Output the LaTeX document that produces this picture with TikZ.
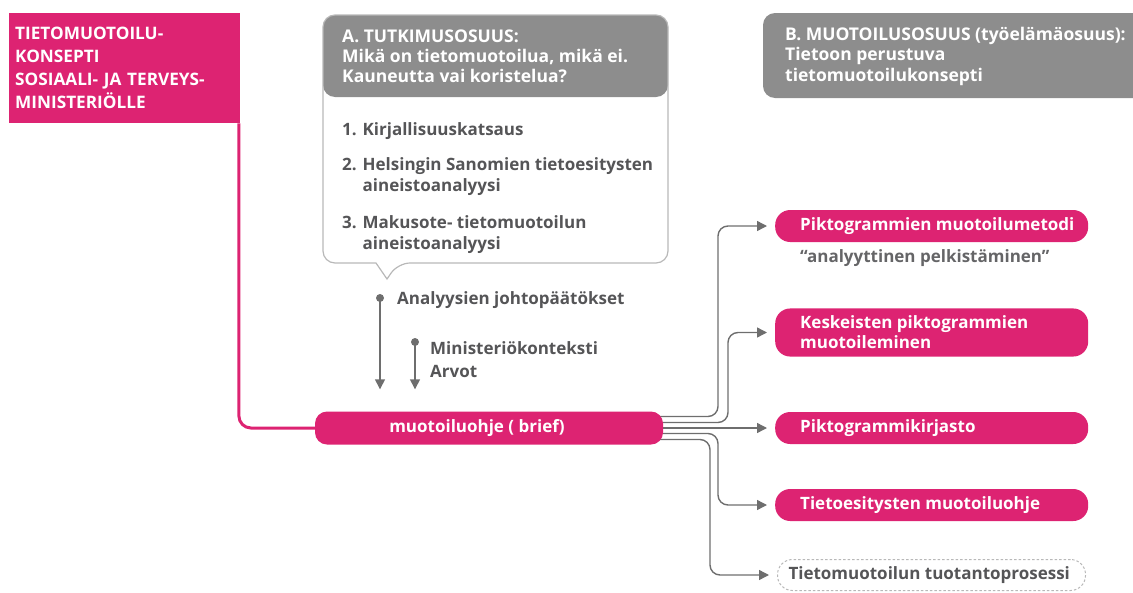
\documentclass[tikz,border=0pt]{standalone}
\usepackage{fontspec}
\setmainfont{Open Sans}
\usetikzlibrary{arrows.meta,backgrounds,calc}
\definecolor{pinkc}{HTML}{DD2372}
\definecolor{hdrgray}{HTML}{8D8D8D}
\definecolor{txtgray}{HTML}{555557}
\definecolor{subgray}{HTML}{656567}
\definecolor{linegray}{HTML}{6E6E6E}
\definecolor{boxline}{HTML}{B8B8B8}
\newcommand{\diafont}{\bfseries\fontsize{17}{20}\selectfont}
\newcommand{\hdrfont}[1]{\bfseries\fontsize{17.5}{#1}\selectfont}
% fixed-width, left-aligned label line inside a pill
\newcommand{\pilltext}[2][263pt]{\makebox[#1][l]{#2}}
\tikzset{
  txt/.style={font=\diafont, inner sep=0pt, align=left, anchor=west},
  pill/.style={fill=pinkc, text=white, rounded corners=15pt, minimum height=32pt,
    minimum width=313pt, inner xsep=25pt, inner ysep=7.5pt, anchor=west,
    font=\diafont},
  dashpill/.style={draw=boxline, line width=1pt, dash pattern=on 2.5pt off 2pt,
    rounded corners=15pt, minimum height=31pt, minimum width=308pt, text=txtgray,
    inner xsep=11pt, anchor=west, font=\diafont},
  conn/.style={draw=linegray, line width=1.4pt, rounded corners=10pt,
    -{Triangle[length=10pt,width=10pt]}, shorten >=8pt},
  garrow/.style={draw=linegray, line width=1.4pt, -{Triangle[length=10pt,width=10pt]}},
  pinkline/.style={draw=pinkc, line width=3pt, rounded corners=12pt},
}
\begin{document}
\begin{tikzpicture}[x=1pt, y=-1pt]
\useasboundingbox (0,0) rectangle (1133,592);

% title block
\node[fill=pinkc, text=white, font=\bfseries\fontsize{17.2}{23}\selectfont,
  anchor=north west, minimum width=231pt, minimum height=110pt,
  text width=219pt, inner xsep=6pt, align=left] (title) at (9,13)
  {TIETOMUOTOILU-\\KONSEPTI\\SOSIAALI- JA TERVEYS-\\MINISTERIÖLLE};

% research part: callout with grey header
\fill[hdrgray, rounded corners=12pt] (323,15) rectangle (668,97);
\draw[boxline, line width=1.2pt, rounded corners=12pt]
  (500,15) -- (668,15) -- (668,263) -- (398,263) [sharp corners] -- (387,279)
  -- (376,263) [rounded corners=12pt] -- (323,263) -- (323,15) -- cycle;
\node[txt, text=white, font=\hdrfont{19.75}] (hdrA) at (342,56.5)
  {A. TUTKIMUSOSUUS:\\Mikä on tietomuotoilua, mikä ei.\\Kauneutta vai koristelua?};
\node[txt, text=txtgray] (item1) at (342,131.2) {1. Kirjallisuuskatsaus};
\node[txt, text=txtgray, font=\bfseries\fontsize{17}{21}\selectfont] (item2) at (342,176.6)
  {2. Helsingin Sanomien tietoesitysten\\\hphantom{2. }aineistoanalyysi};
\node[txt, text=txtgray, font=\bfseries\fontsize{17}{21}\selectfont] (item3) at (342,234.6)
  {3. Makusote- tietomuotoilun\\\hphantom{3. }aineistoanalyysi};

% design part header
\begin{scope}
  \clip (0,0) rectangle (1133,592);
  \fill[hdrgray, rounded corners=12pt] (763,13) rectangle (1160,98);
\end{scope}
\node[txt, text=white, font=\hdrfont{20.5}] (hdrB) at (785,56.2)
  {B. MUOTOILUSOSUUS (työelämäosuus):\\Tietoon perustuva\\tietomuotoilukonsepti};

% brief (label sits a little left of centre)
\node[fill=pinkc, text=white, font=\diafont, rounded corners=12pt,
  minimum width=348pt, minimum height=33pt] (brief) at (489,428)
  {muotoiluohje ( brief)\hspace*{24pt}};

% inputs to the brief
\node[txt, text=txtgray] (ana) at (397,300.5) {Analyysien johtopäätökset};
\node[txt, text=txtgray, font=\bfseries\fontsize{17}{23}\selectfont] (min) at (430,360)
  {Ministeriökonteksti\\Arvot};
\coordinate (dotA) at (380,298);
\coordinate (dotB) at (415,342);
\coordinate (tipline) at ([yshift=22pt]brief.north);
\fill[linegray] (dotA) circle (4pt);
\fill[linegray] (dotB) circle (4pt);
\draw[garrow] (dotA) -- (dotA |- tipline);
\draw[garrow] (dotB) -- (dotB |- tipline);

% outputs
\node[pill] (pikto) at (775,226) {\pilltext{Piktogrammien muotoilumetodi}};
\node[txt, text=subgray] (method) at (800,258) {“analyyttinen pelkistäminen”};
\node[pill] (kesk) at (775,332.5)
  {\parbox{263pt}{\raggedright Keskeisten piktogrammien\\muotoileminen}};
\node[pill] (kirj) at (775,428) {\pilltext{Piktogrammikirjasto}};
\node[pill] (ohje) at (775,505) {\pilltext{Tietoesitysten muotoiluohje}};
\node[dashpill] (prosessi) at (777,575) {\pilltext[286pt]{Tietomuotoilun tuotantoprosessi}};

% routing columns
\coordinate (colA) at (718,0);
\coordinate (colB) at (728,0);
\coordinate (colC) at (718,0);
\coordinate (colD) at (710,0);

\begin{pgfonlayer}{background}
  \draw[pinkline] ([xshift=-1.5pt]title.south east) |- (brief.west);
  \draw[conn] ([yshift=11.5pt]brief.center) -| (colA |- pikto.west) -- (pikto.west);
  \draw[conn] ([yshift=5.5pt]brief.center) -| (colB |- kesk.west) -- (kesk.west);
  \draw[conn] (brief.center) -- (kirj.west);
  \draw[conn] ([yshift=-5.5pt]brief.center) -| (colC |- ohje.west) -- (ohje.west);
  \draw[conn] ([yshift=-11.5pt]brief.center) -| (colD |- prosessi.west) -- (prosessi.west);
\end{pgfonlayer}
\end{tikzpicture}
\end{document}
